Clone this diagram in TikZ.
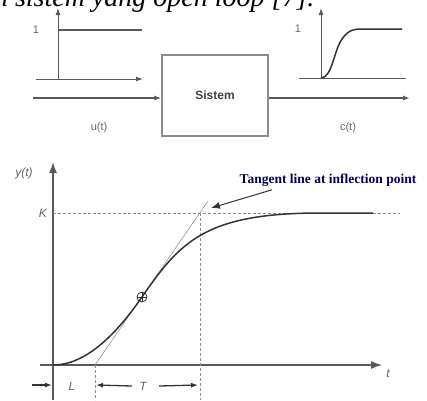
\documentclass[tikz,border=0pt]{standalone}
\usepackage{fontspec}
\setmainfont{Liberation Serif}
\setsansfont{Liberation Sans}
\usetikzlibrary{positioning,arrows.meta}

\begin{document}
\begin{tikzpicture}[
        x=1pt, y=-1pt,
        axis/.style={
            draw=black!65,
            line width=1pt
        },
        arrow/.style={-{Latex[length=7pt,width=5pt]}},
        bigarrow/.style={-{Latex[length=11pt,width=8pt]}},
        sysbox/.style={
            draw=black!45,
            line width=1.1pt,
            minimum width=106pt,
            minimum height=81pt,
            text=black!75,
            font=\sffamily\bfseries\fontsize{12}{14}\selectfont
        },
        lbl/.style={
            text=black!60,
            font=\sffamily\fontsize{11}{13}\selectfont
        },
        ilbl/.style={
            text=black!60,
            font=\sffamily\itshape\fontsize{12}{14}\selectfont
        },
        resp/.style={draw=black!80, line width=1.5pt},
        guide/.style={draw=black!45, densely dashed, line width=0.5pt}
    ]
        \clip (0,0) rectangle (427,400);

        % caption line cut off at the top
        \node[anchor=base east, font=\itshape\fontsize{28}{30}\selectfont] (caption) at (318,6) {n sistem yang open loop [7].};

        % block diagram
        \node[sysbox] (sistem) at (215,95.5) {Sistem};
        \coordinate (uin) at (33,98);
        \coordinate (cout) at (410,98);
        \draw[axis, line width=1.7pt, arrow] (uin) -- (uin -| sistem.west);
        \draw[axis, line width=1.7pt, arrow] (cout -| sistem.east) -- (cout);
        \node[lbl] (ulbl) at (99,128) {u(t)};
        \node[lbl] (clbl) at (348,128) {c(t)};

        % input step
        \draw[axis, arrow] (36,79) -- (143,79);
        \draw[axis, arrow] (58,79) -- (58,8);
        \draw[black!65, line width=2pt] (58,30) -- (142,30);
        \node[lbl] (uone) at (36,30) {1};

        % output response
        \draw[axis] (299,78) -- (406,78);
        \draw[axis, arrow] (321,78) -- (321,8);
        \draw[resp] (321,78) .. controls (332,78) and (334,50) .. (342,39)
            .. controls (349,29) and (355,29) .. (363,29) -- (402,29);
        \node[lbl] (cone) at (298,29) {1};

        % step response plot
        \draw[axis, line width=1.4pt, bigarrow] (53,400) -- (53,162);
        \draw[axis, line width=1.4pt, bigarrow] (40,365) -- (382,365);
        \node[ilbl] (ylbl) at (24,173) {y(t)};
        \node[ilbl] (tlbl) at (388,374) {t};
        \node[ilbl] (klbl) at (43,213) {K};
        \draw[guide] (53,213) -- (400,213);
        \draw[guide] (200,213) -- (200,400);
        \draw[guide] (95,365) -- (95,400);
        \draw[black!55, line width=0.4pt] (95,365) -- (208,201);
        \draw[resp] (53,365) .. controls (85,365) and (115,336) .. (142,297)
            .. controls (180,242) and (205,213) .. (320,213) -- (373,213);
        \node[draw=black!80, circle, line width=0.8pt, minimum size=10pt, inner sep=0pt] (infl) at (142,297) {};
        \draw[black!80, line width=0.6pt] (infl.west) -- (infl.east) (infl.north) -- (infl.south);

        \node[text=black!70!blue, font=\bfseries\fontsize{13.5}{16}\selectfont] (tanlbl) at (328,180) {Tangent line at inflection point};
        \coordinate (tanpt) at (211,208);
        \draw[black!80, line width=1pt, -{Latex[length=9pt,width=7pt]}] ([xshift=-56pt]tanlbl.south) -- (tanpt);

        % L and T
        \node[ilbl] (llbl) at (72,386) {L};
        \node[ilbl] (Tlbl) at (143,386) {T};
        \draw[black!80, line width=1.3pt, arrow] (32,385) -- (52,385);
        \draw[black!80, line width=1.3pt, arrow] (Tlbl.west) ++(-4,0) -- (96,385);
        \draw[black!80, line width=1.3pt, arrow] (Tlbl.east) ++(9,0) -- (198,385);
    \end{tikzpicture}
\end{document}
